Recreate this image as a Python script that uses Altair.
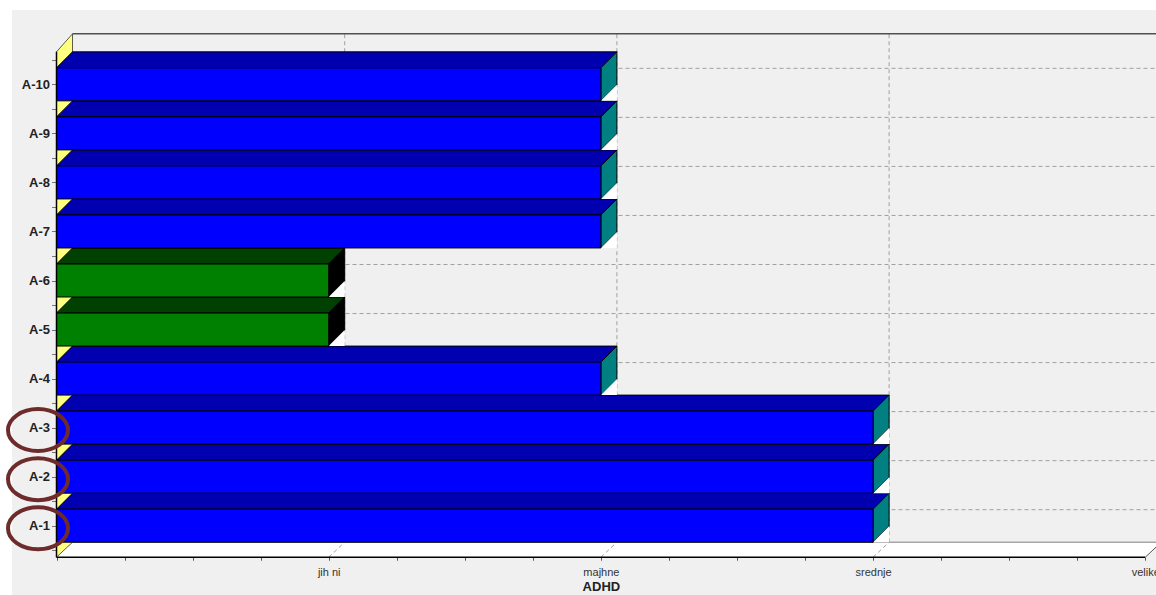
import json
import altair as alt
import pandas as pd

# Survey items (bottom to top) and the answer recorded for each
items = ["A-1", "A-2", "A-3", "A-4", "A-5", "A-6", "A-7", "A-8", "A-9", "A-10"]
answers = ["srednje", "srednje", "srednje", "majhne", "jih ni", "jih ni",
           "majhne", "majhne", "majhne", "majhne"]
# Ordered answer scale on the horizontal axis (positions 1..4)
levels = ["jih ni", "majhne", "srednje", "velike"]
# Items ringed on the category axis
ringed = ["A-1", "A-2", "A-3"]

# Face colours per answer level
front_colors = ["#008000", "#0000ff", "#0000ff", "#0000ff"]
top_colors = ["#004000", "#0000b0", "#0000b0", "#0000b0"]
side_colors = ["#000000", "#008080", "#008080", "#008080"]

# Plot-area geometry (pixels)
W, H = 1144, 585
X_ORIGIN, X_STEP = 44.5, 272.2      # pixel of level 0, pixels per level
Y_FIRST, Y_STEP = 515.7, 49.04      # pixel of first item, pixels per item
DEPTH = 16.0                        # 3-D depth offset
HALF_BAR = 16.5                     # half height of a bar's front face
FLOOR_DEPTH = 15.0
WALL_EXTRA = 18.0

dx = DEPTH / X_STEP
dy = DEPTH / Y_STEP
half = HALF_BAR / Y_STEP
x_min = -X_ORIGIN / X_STEP
x_max = (W - X_ORIGIN) / X_STEP
y_min = 1 - (H - Y_FIRST) / Y_STEP
y_max = 1 + Y_FIRST / Y_STEP

floor_back = 1 - half
floor_front = floor_back - FLOOR_DEPTH / Y_STEP
front_top = len(items) + half + dy
back_top = front_top + WALL_EXTRA / Y_STEP
floor_front_px = Y_FIRST + (1 - floor_front) * Y_STEP
n_levels = len(levels)

# ---- tables -------------------------------------------------------------
bars = pd.DataFrame({
    "item": items,
    "level": answers,
    "y": range(1, len(items) + 1),
    "v": [levels.index(a) + 1 for a in answers],
})

front = pd.DataFrame({
    "item": bars["item"], "level": bars["level"],
    "x": 0.0, "x2": bars["v"].astype(float),
    "y": bars["y"] - half, "y2": bars["y"] + half,
})

top_rows, side_rows, gap_rows = [], [], []
for _, b in bars.iterrows():
    yt = b["y"] + half
    yb = b["y"] - half
    for x, y, y2 in [(0, yt, yt), (dx, yt + dy, yt), (b["v"], yt + dy, yt),
                     (b["v"] + dx, yt + dy, yt + dy)]:
        top_rows.append({"item": b["item"], "level": b["level"], "x": x, "y": y, "y2": y2})
    for x, y, y2 in [(b["v"], yt, yb), (b["v"] + dx, yt + dy, yb + dy)]:
        side_rows.append({"item": b["item"], "level": b["level"], "x": x, "y": y, "y2": y2})
    for x, y, y2 in [(b["v"], yb, yb), (b["v"] + dx, yb + dy, yb)]:
        gap_rows.append({"item": b["item"], "x": x, "y": y, "y2": y2})
tops = pd.DataFrame(top_rows)
sides = pd.DataFrame(side_rows)
gaps = pd.DataFrame(gap_rows)

wall_h = pd.DataFrame({"x": dx, "x2": x_max, "y": [i + dy for i in range(1, len(items) + 1)]})
wall_v = pd.DataFrame({"x": [v + dx for v in range(1, n_levels + 1)],
                       "y": floor_back, "y2": back_top})
wall_top = pd.DataFrame({"x": [dx], "x2": [x_max], "y": [back_top]})
floor = pd.DataFrame({
    "x": [0, dx, n_levels, n_levels + dx],
    "y": [floor_front, floor_back, floor_back, floor_back],
    "y2": [floor_front, floor_front, floor_front, floor_back],
})
floor_back_edge = pd.DataFrame({"x": [dx], "x2": [x_max], "y": [floor_back]})
floor_diag = pd.DataFrame({"x": list(range(1, n_levels)),
                           "x2": [v + dx for v in range(1, n_levels)],
                           "y": floor_front, "y2": floor_back})
floor_corner = pd.DataFrame({"x": [n_levels], "x2": [n_levels + dx],
                             "y": [floor_front], "y2": [floor_back]})
floor_front_edge = pd.DataFrame({"x": [0], "x2": [n_levels], "y": [floor_front]})
side_wall = pd.DataFrame({"x": [0, dx], "y": [front_top, back_top],
                          "y2": [floor_front, floor_back]})
axis_line = pd.DataFrame({"x": [0], "y": [floor_front], "y2": [front_top]})
rings = pd.DataFrame({"x": 0.0, "y": [items.index(r) + 1 for r in ringed]})

# ---- scales and axes ----------------------------------------------------
font = "Liberation Sans"
xscale = alt.Scale(domain=[x_min, x_max], nice=False, zero=False)
yscale = alt.Scale(domain=[y_min, y_max], nice=False, zero=False)

xaxis = alt.Axis(
    values=[k / 4 for k in range(4 * n_levels + 1)],
    labelExpr=f"datum.value % 1 === 0 && datum.value >= 1 ? {json.dumps(levels)}[datum.value - 1] : ''",
    title="ADHD", offset=floor_front_px - H, domain=False, grid=False,
    tickSize=3, tickColor="#555555", labelFont=font, labelFontSize=11,
    labelColor="#333333", labelPadding=6, labelFlush=False, labelOverlap=False,
    titleFont=font, titleFontSize=13, titleFontWeight="bold", titleColor="#222222",
    titlePadding=3, titleX=X_ORIGIN + X_STEP * n_levels / 2, titleAlign="center",
)
yaxis = alt.Axis(
    values=[k / 2 for k in range(1, 2 * len(items) + 2)],
    labelExpr=f"datum.value % 1 === 0 ? {json.dumps(items)}[datum.value - 1] : ''",
    title=None, offset=-X_ORIGIN, domain=False, grid=False,
    tickSize=5, tickColor="#777777", labelFont=font, labelFontSize=13,
    labelFontWeight="bold", labelColor="#222222", labelPadding=2, labelOverlap=False,
)


def X(field="x"):
    return alt.X(f"{field}:Q", scale=xscale, axis=xaxis)


def Y(field="y"):
    return alt.Y(f"{field}:Q", scale=yscale, axis=yaxis)


def fill(colors):
    return alt.Color("level:N", scale=alt.Scale(domain=levels, range=colors), legend=None)


grid = dict(color="#a0a0a0", strokeDash=[4, 3], strokeWidth=1)

layers = [
    alt.Chart(wall_h).mark_rule(**grid).encode(x=X(), x2="x2:Q", y=Y()),
    alt.Chart(wall_v).mark_rule(**grid).encode(x=X(), y=Y(), y2="y2:Q"),
    alt.Chart(wall_top).mark_rule(color="#000000", strokeWidth=1).encode(x=X(), x2="x2:Q", y=Y()),
    alt.Chart(floor).mark_area(orient="vertical", color="#ffffff").encode(x=X(), y=Y(), y2="y2:Q"),
    alt.Chart(floor_back_edge).mark_rule(color="#808080", strokeWidth=1).encode(x=X(), x2="x2:Q", y=Y()),
    alt.Chart(floor_diag).mark_rule(**grid).encode(x=X(), x2="x2:Q", y=Y(), y2="y2:Q"),
    alt.Chart(floor_corner).mark_rule(color="#555555", strokeWidth=1).encode(x=X(), x2="x2:Q", y=Y(), y2="y2:Q"),
    alt.Chart(floor_front_edge).mark_rule(color="#000000", strokeWidth=1.5).encode(x=X(), x2="x2:Q", y=Y()),
    alt.Chart(side_wall).mark_area(orient="vertical", color="#ffff80", stroke="#333333",
                                   strokeWidth=0.8).encode(x=X(), y=Y(), y2="y2:Q"),
    alt.Chart(tops).mark_area(orient="vertical", stroke="#000000", strokeWidth=1, opacity=1).encode(
        x=X(), y=Y(), y2="y2:Q", detail="item:N", color=fill(top_colors)),
    alt.Chart(sides).mark_area(orient="vertical", stroke="#000000", strokeWidth=1, opacity=1).encode(
        x=X(), y=Y(), y2="y2:Q", detail="item:N", color=fill(side_colors)),
    alt.Chart(gaps).mark_area(orient="vertical", color="#ffffff").encode(
        x=X(), y=Y(), y2="y2:Q", detail="item:N"),
    alt.Chart(front).mark_rect(stroke="#000000", strokeWidth=1).encode(
        x=X(), x2="x2:Q", y=Y(), y2="y2:Q", color=fill(front_colors)),
    alt.Chart(axis_line).mark_rule(color="#000000", strokeWidth=1.5).encode(x=X(), y=Y(), y2="y2:Q"),
    alt.Chart(rings).mark_point(
        shape="M -1 0 A 1 0.7 0 1 0 1 0 A 1 0.7 0 1 0 -1 0 Z",
        size=3600, filled=False, stroke="#6e2b2b", strokeWidth=4, opacity=1,
        xOffset=-18.5, yOffset=2.5,
    ).encode(x=X(), y=Y()),
]

chart = (
    alt.layer(*layers)
    .resolve_scale(color="independent")
    .properties(
        width=W, height=H,
        padding={"left": 12, "top": 10, "right": 0, "bottom": 0},
        autosize=alt.AutoSizeParams(type="none"),
        background="#ffffff",
    )
    .configure_view(fill="#f0f0f0", stroke=None)
)

chart.save("out.html", embed_options={"renderer": "svg", "actions": False})
